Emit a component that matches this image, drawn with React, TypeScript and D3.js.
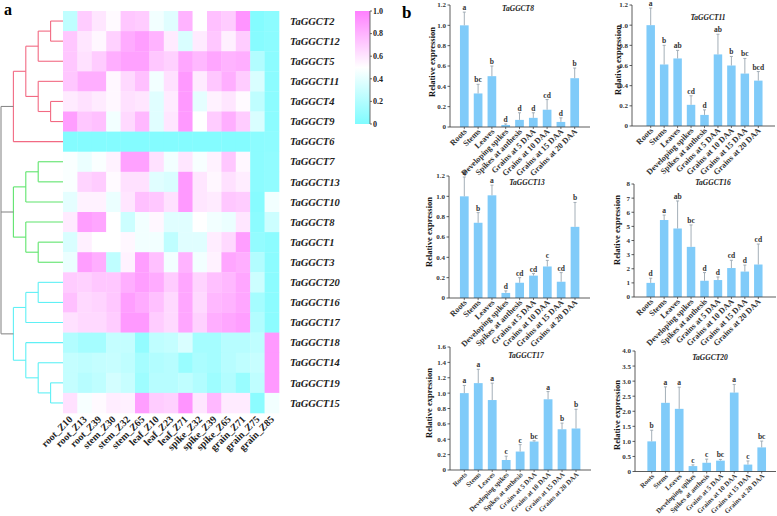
import React from 'react';
import * as d3 from 'd3';

// ---------- Heatmap data ----------
const genes = ['TaGGCT2','TaGGCT12','TaGGCT5','TaGGCT11','TaGGCT4','TaGGCT9','TaGGCT6','TaGGCT7','TaGGCT13','TaGGCT10','TaGGCT8','TaGGCT1','TaGGCT3','TaGGCT20','TaGGCT16','TaGGCT17','TaGGCT18','TaGGCT14','TaGGCT19','TaGGCT15'];
const tissues = ['root_Z10','root_Z13','root_Z39','stem_Z30','stem_Z32','stem_Z65','leaf_Z10','leaf_Z23','leaf_Z71','spike_Z32','spike_Z39','spike_Z65','grain_Z71','grain_Z75','grain_Z85'];
const heatValues = [
  [0.25,0.70,0.60,0.52,0.72,0.70,0.45,0.38,0.80,0.50,0.75,0.70,0.92,0.02,0.05],
  [0.72,0.60,0.53,0.68,0.83,0.88,0.80,0.58,0.35,0.58,0.72,0.56,0.70,0.03,0.05],
  [0.72,0.62,0.70,0.82,0.87,0.87,0.72,0.68,0.85,0.78,0.85,0.80,0.82,0.20,0.05],
  [0.72,0.82,0.82,0.53,0.65,0.75,0.45,0.62,0.90,0.58,0.72,0.82,0.70,0.35,0.05],
  [0.58,0.62,0.58,0.53,0.62,0.60,0.38,0.58,0.90,0.40,0.55,0.60,0.52,0.25,0.05],
  [0.88,0.72,0.75,0.45,0.65,0.78,0.38,0.60,0.90,0.50,0.70,0.82,0.70,0.35,0.05],
  [0.02,0.02,0.02,0.02,0.02,0.02,0.02,0.02,0.02,0.02,0.02,0.02,0.02,0.05,0.06],
  [0.48,0.42,0.48,0.55,0.87,0.87,0.62,0.45,0.60,0.47,0.55,0.72,0.53,0.05,0.07],
  [0.48,0.67,0.70,0.52,0.62,0.62,0.38,0.35,0.90,0.60,0.53,0.62,0.57,0.05,0.07],
  [0.40,0.55,0.55,0.42,0.60,0.75,0.72,0.62,0.90,0.60,0.58,0.72,0.70,0.03,0.45],
  [0.58,0.88,0.85,0.50,0.30,0.45,0.53,0.38,0.38,0.50,0.45,0.42,0.60,0.05,0.30],
  [0.35,0.56,0.50,0.50,0.53,0.45,0.45,0.25,0.38,0.38,0.57,0.65,0.88,0.08,0.05],
  [0.42,0.88,0.82,0.25,0.55,0.88,0.75,0.45,0.80,0.45,0.55,0.85,0.82,0.20,0.05],
  [0.70,0.68,0.72,0.72,0.82,0.88,0.83,0.70,0.85,0.67,0.75,0.78,0.85,0.30,0.05],
  [0.75,0.65,0.67,0.72,0.88,0.83,0.75,0.65,0.85,0.65,0.78,0.80,0.85,0.15,0.05],
  [0.62,0.65,0.65,0.70,0.90,0.90,0.70,0.65,0.85,0.68,0.82,0.85,0.88,0.20,0.05],
  [0.20,0.15,0.15,0.27,0.27,0.08,0.25,0.27,0.35,0.15,0.15,0.22,0.22,0.25,0.90],
  [0.27,0.25,0.27,0.28,0.25,0.15,0.20,0.22,0.10,0.17,0.15,0.22,0.25,0.28,0.90],
  [0.27,0.22,0.25,0.33,0.28,0.12,0.22,0.22,0.25,0.20,0.12,0.20,0.10,0.25,0.90],
  [0.62,0.47,0.52,0.57,0.56,0.88,0.70,0.68,0.92,0.60,0.78,0.58,0.58,0.05,0.45],
];
const colorbarTicks = [0, 0.2, 0.4, 0.6, 0.8, 1.0];

// dendrogram (leaf indices refer to genes order; h = merge level)
type DNode = number | { h: number; color?: string; children: DNode[] };
const RED = '#f26a83', GREEN = '#5fe46d', CYAN = '#5ff0f5', GRAY = '#8a8a8a';
const dendrogram: DNode = { h: 5, color: GRAY, children: [
  { h: 4, color: RED, children: [
    { h: 3, children: [ { h: 2, children: [ { h: 1, children: [0, 1] }, 2 ] }, { h: 2, children: [3, { h: 1, children: [4, 5] }] } ] },
    6 ] },
  { h: 4, color: GREEN, children: [
    { h: 3, children: [ { h: 2, children: [7, 8] }, 9 ] },
    { h: 3, children: [ 10, { h: 2, children: [11, 12] } ] } ] },
  { h: 4, color: CYAN, children: [
    { h: 3, children: [ { h: 2, children: [13, 14] }, 15 ] },
    { h: 3, children: [ 16, { h: 2, children: [17, { h: 1, children: [18, 19] }] } ] } ] },
] };

// ---------- Bar chart data ----------
const barCategories = ['Roots','Stems','Leaves','Developing spikes','Spikes at anthesis','Grains at 5 DAA','Grains at 10 DAA','Grains at 15 DAA','Grains at 20 DAA'];

const ggct8Mean = [1.0, 0.33, 0.50, 0.02, 0.07, 0.09, 0.17, 0.05, 0.48];
const ggct8Sd   = [0.13, 0.09, 0.10, 0.01, 0.07, 0.05, 0.10, 0.04, 0.10];
const ggct8Sig  = ['a','bc','b','d','d','d','cd','d','b'];

const ggct11Mean = [1.0, 0.61, 0.67, 0.21, 0.11, 0.71, 0.60, 0.52, 0.45];
const ggct11Sd   = [0.17, 0.19, 0.08, 0.09, 0.05, 0.20, 0.09, 0.15, 0.09];
const ggct11Sig  = ['a','b','ab','cd','d','ab','b','bc','bcd'];

const ggct13Mean = [1.0, 0.74, 1.01, 0.05, 0.15, 0.22, 0.31, 0.16, 0.70];
const ggct13Sd   = [0.19, 0.10, 0.10, 0.02, 0.05, 0.02, 0.06, 0.09, 0.24];
const ggct13Sig  = ['a','b','a','d','cd','cd','c','cd','b'];

const ggct16Mean = [1.0, 5.45, 4.85, 3.55, 1.15, 1.20, 2.05, 1.80, 2.30];
const ggct16Sd   = [0.33, 0.35, 1.95, 1.55, 0.58, 0.22, 0.55, 0.46, 1.45];
const ggct16Sig  = ['d','a','ab','bc','d','d','cd','d','cd'];

const ggct17Mean = [1.0, 1.13, 0.91, 0.13, 0.24, 0.37, 0.92, 0.53, 0.54];
const ggct17Sd   = [0.10, 0.18, 0.22, 0.05, 0.09, 0.01, 0.10, 0.08, 0.25];
const ggct17Sig  = ['a','a','a','c','c','bc','a','b','b'];

const ggct20Mean = [1.0, 2.28, 2.08, 0.18, 0.29, 0.36, 2.62, 0.23, 0.80];
const ggct20Sd   = [0.37, 0.53, 0.72, 0.04, 0.12, 0.04, 0.27, 0.12, 0.21];
const ggct20Sig  = ['b','a','a','c','c','bc','a','c','bc'];

const FONT = "'Liberation Serif', 'Times New Roman', serif";
const BAR = '#80cbf9';

type Panel = {
  title: string; mean: number[]; sd: number[]; sig: string[];
  yMax: number; step: number; fmt: (v: number) => string;
  axisX: number; axisEnd: number; y0: number; yTop: number;
  first: number; last: number; titleX: number; titleY: number;
  labX: number; labY: number; catSize: number;
};

const f1 = (v: number) => (v === 0 ? '0' : d3.format('.1f')(v));
const f0 = (v: number) => d3.format('d')(v);

const panels: Panel[] = [
  { title: 'TaGGCT8', mean: ggct8Mean, sd: ggct8Sd, sig: ggct8Sig, yMax: 1.2, step: 0.2, fmt: f1,
    axisX: 450, axisEnd: 590, y0: 127, yTop: 5, first: 464.3, last: 574.7, titleX: 518, titleY: 8, labX: 432, labY: 62, catSize: 8.2 },
  { title: 'TaGGCT11', mean: ggct11Mean, sd: ggct11Sd, sig: ggct11Sig, yMax: 1.2, step: 0.2, fmt: f1,
    axisX: 632, axisEnd: 775, y0: 126, yTop: 5, first: 650.7, last: 758.3, titleX: 708, titleY: 17, labX: 618, labY: 60, catSize: 8.2 },
  { title: 'TaGGCT13', mean: ggct13Mean, sd: ggct13Sd, sig: ggct13Sig, yMax: 1.2, step: 0.2, fmt: f1,
    axisX: 449, axisEnd: 590, y0: 298, yTop: 176, first: 464.3, last: 575, titleX: 527, titleY: 182, labX: 429, labY: 232, catSize: 8.2 },
  { title: 'TaGGCT16', mean: ggct16Mean, sd: ggct16Sd, sig: ggct16Sig, yMax: 8, step: 1, fmt: f0,
    axisX: 634, axisEnd: 776, y0: 297, yTop: 184, first: 650.7, last: 758.3, titleX: 713, titleY: 182, labX: 617, labY: 230, catSize: 8.2 },
  { title: 'TaGGCT17', mean: ggct17Mean, sd: ggct17Sd, sig: ggct17Sig, yMax: 1.6, step: 0.2, fmt: f1,
    axisX: 450, axisEnd: 591, y0: 470, yTop: 347, first: 464.3, last: 576, titleX: 526, titleY: 355, labX: 429, labY: 403, catSize: 6.9 },
  { title: 'TaGGCT20', mean: ggct20Mean, sd: ggct20Sd, sig: ggct20Sig, yMax: 4.0, step: 0.5, fmt: f1,
    axisX: 635, axisEnd: 776, y0: 471.5, yTop: 351, first: 651.7, last: 761.7, titleX: 710, titleY: 357, labX: 617, labY: 415, catSize: 6.9 },
];

// ---------- Heatmap layout ----------
const HM = { left: 63, right: 279, top: 11, bottom: 413 };

function Dendro() {
  const yScale = d3.scaleBand<number>().domain(d3.range(genes.length)).range([HM.top, HM.bottom]);
  const xOfH = d3.scaleLinear().domain([0, 5]).range([HM.left, 1]);
  const lines: JSX.Element[] = [];
  let k = 0;
  const walk = (n: DNode, color: string): { x: number; y: number } => {
    if (typeof n === 'number') return { x: HM.left, y: (yScale(n) as number) + yScale.bandwidth() / 2 };
    const c = n.color ?? color;
    const x = xOfH(n.h);
    const pts = n.children.map((ch) => walk(ch, typeof ch === 'number' ? c : (ch.color ?? c)));
    const ys = pts.map((p) => p.y);
    lines.push(<line key={k++} x1={x} x2={x} y1={d3.min(ys)} y2={d3.max(ys)} stroke={c} strokeWidth={1.1} />);
    pts.forEach((p) => lines.push(<line key={k++} x1={x} x2={p.x} y1={p.y} y2={p.y} stroke={c} strokeWidth={1.1} />));
    return { x, y: ((d3.min(ys) as number) + (d3.max(ys) as number)) / 2 };
  };
  walk(dendrogram, GRAY);
  return <g>{lines}</g>;
}

function Heatmap() {
  const x = d3.scaleBand<number>().domain(d3.range(tissues.length)).range([HM.left, HM.right]);
  const y = d3.scaleBand<number>().domain(d3.range(genes.length)).range([HM.top, HM.bottom]);
  const color = d3.scaleLinear<string>().domain([0, 0.5, 1]).range(['#7ffcff', '#ffffff', '#ff80ff']);
  const cb = d3.scaleLinear().domain([0, 1]).range([124, 11]);
  return (
    <g>
      {heatValues.map((row, i) => row.map((v, j) => (
        <rect key={`${i}-${j}`} x={x(j)} y={y(i)} width={x.bandwidth() + 0.3} height={y.bandwidth() + 0.3} fill={color(v)} />
      )))}
      {genes.map((g, i) => (
        <text key={g} x={290} y={(y(i) as number) + y.bandwidth() / 2} dy="0.35em" fontSize={10.5}
          fontWeight="bold" fontStyle="italic" fontFamily={FONT} fill="#222">{g}</text>
      ))}
      {tissues.map((t, j) => (
        <text key={t} transform={`translate(${(x(j) as number) + x.bandwidth() / 2 + 3},${HM.bottom + 7}) rotate(-45)`}
          textAnchor="end" fontSize={10} fontWeight="bold" fontFamily={FONT} fill="#222">{t}</text>
      ))}
      <defs>
        <linearGradient id="cbg" x1="0" y1="1" x2="0" y2="0">
          <stop offset="0" stopColor="#7ffcff" />
          <stop offset="0.5" stopColor="#ffffff" />
          <stop offset="1" stopColor="#ff80ff" />
        </linearGradient>
      </defs>
      <rect x={355} y={11} width={15} height={113} fill="url(#cbg)" />
      <line x1={370} x2={370} y1={11} y2={124} stroke="#444" strokeWidth={0.8} />
      {colorbarTicks.map((t) => (
        <g key={t}>
          <line x1={370} x2={372} y1={cb(t)} y2={cb(t)} stroke="#444" strokeWidth={0.8} />
          <text x={373} y={cb(t)} dy="0.35em" fontSize={8} fontWeight="bold" fontFamily={FONT} fill="#222">{t === 0 ? '0' : t.toFixed(1)}</text>
        </g>
      ))}
    </g>
  );
}

function BarPanel({ p }: { p: Panel }) {
  const stepPx = (p.last - p.first) / (barCategories.length - 1);
  const x = d3.scaleBand<string>().domain(barCategories)
    .range([p.first - stepPx / 2, p.last + stepPx / 2]).paddingInner(0.37).paddingOuter(0.185);
  const y = d3.scaleLinear().domain([0, p.yMax]).range([p.y0, p.yTop]);
  const ticks = d3.range(0, p.yMax + p.step / 2, p.step);
  const ink = '#333';
  return (
    <g fontFamily={FONT}>
      {barCategories.map((c, i) => {
        const cx = (x(c) as number) + x.bandwidth() / 2;
        const top = p.mean[i] + p.sd[i];
        return (
          <g key={c}>
            <rect x={x(c)} y={y(p.mean[i])} width={x.bandwidth()} height={p.y0 - y(p.mean[i])} fill={BAR} />
            <line x1={cx} x2={cx} y1={y(p.mean[i])} y2={y(top)} stroke="#9aa6b0" strokeWidth={0.9} />
            <line x1={cx - 1.5} x2={cx + 1.5} y1={y(top)} y2={y(top)} stroke="#9aa6b0" strokeWidth={0.9} />
            <text x={cx} y={y(top) - 2} textAnchor="middle" fontSize={7.5} fontWeight="bold" fill={ink}>{p.sig[i]}</text>
            <line x1={cx} x2={cx} y1={p.y0} y2={p.y0 + 2} stroke={ink} strokeWidth={0.7} />
            <text transform={`translate(${cx + 3},${p.y0 + 5}) rotate(-45)`} textAnchor="end" fontSize={p.catSize}
              fontWeight="bold" fill={ink}>{c}</text>
          </g>
        );
      })}
      <line x1={p.axisX} x2={p.axisX} y1={p.y0} y2={p.yTop} stroke={ink} strokeWidth={0.8} />
      <line x1={p.axisX} x2={p.axisEnd} y1={p.y0} y2={p.y0} stroke={ink} strokeWidth={0.8} />
      {ticks.map((t) => (
        <g key={t}>
          <line x1={p.axisX - 2.5} x2={p.axisX} y1={y(t)} y2={y(t)} stroke={ink} strokeWidth={0.8} />
          <text x={p.axisX - 4} y={y(t)} dy="0.35em" textAnchor="end" fontSize={7} fontWeight="bold" fill={ink}>{p.fmt(t)}</text>
        </g>
      ))}
      <text transform={`translate(${p.labX},${p.labY}) rotate(-90)`} textAnchor="middle" dy="0.35em" fontSize={8.5}
        fontWeight="bold" fill="#111">Relative expression</text>
      <text x={p.titleX} y={p.titleY} dy="0.35em" textAnchor="middle" fontSize={7.5} fontWeight="bold" fontStyle="italic" fill="#222">{p.title}</text>
    </g>
  );
}

export default function App() {
  return (
    <svg width={777} height={516} style={{ position: 'absolute', left: 0, top: 0, background: '#fff' }}>
      <rect width={777} height={516} fill="#fff" />
      <text x={4} y={15} fontSize={16} fontWeight="bold" fontFamily={FONT}>a</text>
      <text x={402} y={18} fontSize={17} fontWeight="bold" fontFamily={FONT}>b</text>
      <Dendro />
      <Heatmap />
      {panels.map((p) => <BarPanel key={p.title} p={p} />)}
    </svg>
  );
}
